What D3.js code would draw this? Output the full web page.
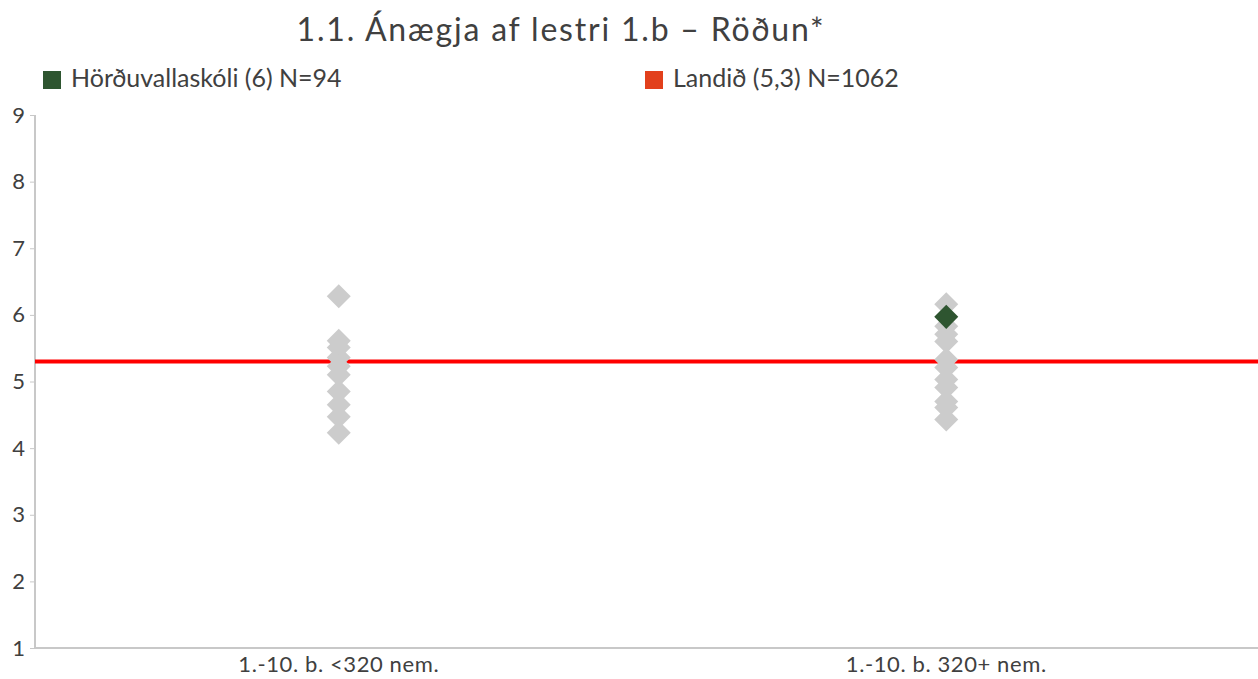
<!DOCTYPE html>
<html>
<head>
<meta charset="utf-8">
<style>
  body { margin: 0; background: #fff; }
  svg text { font-family: Lato, "Open Sans", sans-serif; fill: #404040; }
</style>
</head>
<body>
<script src="https://d3js.org/d3.v7.min.js"></script>
<script>
const W = 1258, H = 679;

const categories = ["1.-10. b. <320 nem.", "1.-10. b. 320+ nem."];
// grey diamonds: other schools in each group
const smallSchools = [6.28, 5.61, 5.51, 5.36, 5.23, 5.10, 4.85, 4.65, 4.47, 4.23];
const largeSchools = [6.16, 5.83, 5.71, 5.60, 5.33, 5.21, 5.03, 4.91, 4.70, 4.61, 4.43];
// this school
const schoolName = "Hörðuvallaskóli (6) N=94";
const schoolGroup = categories[1];
const schoolValue = 5.97;
// national average
const nationalName = "Landið (5,3) N=1062";
const nationalValue = 5.3;
const yTicks = [1, 2, 3, 4, 5, 6, 7, 8, 9];

const margin = {left: 35, right: 0, top: 115, bottom: 31};

const svg = d3.select("body").append("svg")
  .attr("width", W)
  .attr("height", H);

const x = d3.scaleBand()
  .domain(categories)
  .range([margin.left, W - margin.right - 8]);

const y = d3.scaleLinear()
  .domain([1, 9])
  .range([H - margin.bottom, margin.top]);

// title
svg.append("text")
  .attr("x", 561)
  .attr("y", 41)
  .attr("text-anchor", "middle")
  .style("font-size", "32px")
  .style("letter-spacing", "1.8px")
  .text("1.1. Ánægja af lestri 1.b – Röðun*");

// legend
const legendItems = [
  {label: schoolName, color: "#2e5530", x: 43},
  {label: nationalName, color: "#e2401c", x: 645}
];
const lg = svg.append("g");
legendItems.forEach(d => {
  lg.append("rect").attr("x", d.x).attr("y", 71).attr("width", 18).attr("height", 18).attr("fill", d.color);
  lg.append("text").attr("x", d.x + 28).attr("y", 87)
    .style("font-size", "25px").text(d.label);
});

// y axis
const yAxis = svg.append("g")
  .attr("transform", `translate(${margin.left},0)`)
  .call(d3.axisLeft(y).tickValues(yTicks).tickSize(5).tickPadding(5));
yAxis.select(".domain").attr("stroke", "#c8c8c8").attr("stroke-width", 2).attr("d", `M0,${y(9)}V${y(1)}`);
yAxis.selectAll(".tick line").attr("stroke", "#c8c8c8");
yAxis.selectAll(".tick text").style("font-size", "22px").attr("fill", "#404040");

// x axis
const xAxis = svg.append("g")
  .attr("transform", `translate(0,${y(1)})`)
  .call(d3.axisBottom(x).tickSize(0).tickPadding(8));
xAxis.select(".domain").attr("stroke", "#c8c8c8").attr("stroke-width", 2)
  .attr("d", `M${margin.left},0H${W}`);
xAxis.selectAll(".tick text").style("font-size", "22px").style("letter-spacing", "0.6px").attr("fill", "#404040");

// national line
svg.append("line")
  .attr("x1", margin.left).attr("x2", W)
  .attr("y1", y(nationalValue)).attr("y2", y(nationalValue))
  .attr("stroke", "#ff0000").attr("stroke-width", 4);

const diamond = d3.symbol().type(d3.symbolSquare).size(17 * 17);

const groups = [
  {cat: categories[0], values: smallSchools},
  {cat: categories[1], values: largeSchools}
];
groups.forEach(g => {
  svg.append("g").selectAll("path")
    .data(g.values)
    .enter()
    .append("path")
    .attr("d", diamond)
    .attr("transform", d => `translate(${x(g.cat) + x.bandwidth() / 2},${y(d)}) rotate(45)`)
    .attr("fill", "#cccccc");
});

svg.append("path")
  .attr("d", diamond)
  .attr("transform", `translate(${x(schoolGroup) + x.bandwidth() / 2},${y(schoolValue)}) rotate(45)`)
  .attr("fill", "#2e5530");
</script>
</body>
</html>
